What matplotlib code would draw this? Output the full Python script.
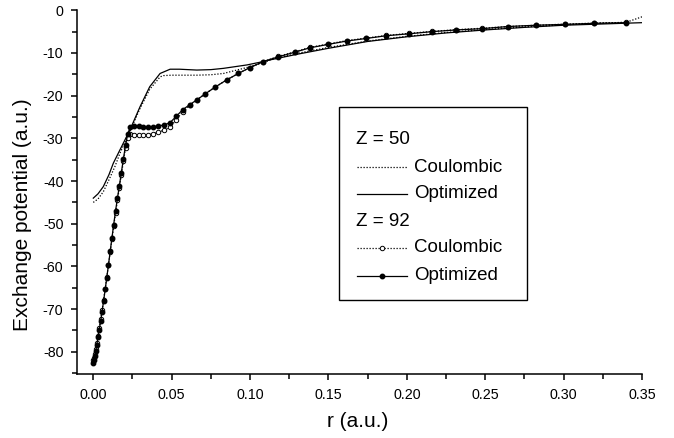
import matplotlib
matplotlib.use("Agg")
import matplotlib.pyplot as plt
from matplotlib.lines import Line2D
from matplotlib.patches import Rectangle
from matplotlib.ticker import MultipleLocator

plt.rcParams["font.family"] = ["Liberation Sans", "DejaVu Sans"]

# Z = 50, Coulombic (dotted)
r_z50_coul = [0.0, 0.003, 0.0064, 0.01, 0.0138, 0.017, 0.0234, 0.0298, 0.036,
              0.0426, 0.0447, 0.05, 0.055, 0.066, 0.075, 0.083, 0.098, 0.1085,
              0.113, 0.13, 0.15, 0.175, 0.2, 0.225, 0.25, 0.275, 0.3, 0.325,
              0.34, 0.351]
v_z50_coul = [-45.0, -44.2, -42.5, -39.7, -36.6, -33.5, -28.3, -23.0, -18.5,
              -15.6, -15.3, -15.2, -15.2, -15.2, -15.1, -14.8, -13.4, -12.3,
              -11.6, -10.1, -8.7, -7.2, -6.1, -5.2, -4.5, -3.9, -3.4, -3.0,
              -2.8, -1.4]

# Z = 50, Optimized (solid)
r_z50_opt = [0.0, 0.003, 0.0064, 0.01, 0.0128, 0.017, 0.0234, 0.0298, 0.036,
             0.0426, 0.049, 0.055, 0.066, 0.075, 0.083, 0.098, 0.1085, 0.113,
             0.13, 0.15, 0.175, 0.2, 0.225, 0.25, 0.275, 0.3, 0.325, 0.35]
v_z50_opt = [-44.0, -43.0, -41.3, -38.5, -35.8, -32.7, -28.0, -22.6, -17.9,
             -14.8, -13.8, -13.8, -14.0, -13.9, -13.6, -12.8, -12.0, -11.6,
             -10.3, -8.9, -7.3, -6.2, -5.3, -4.6, -4.0, -3.5, -3.2, -2.9]

# Z = 92 (both curves sampled at the same radii, one marker per point)
r_z92 = [0.0, 0.0005, 0.001, 0.0016, 0.0022, 0.003, 0.0038, 0.0047, 0.0056,
         0.0066, 0.0076, 0.0086, 0.0097, 0.0108, 0.0119, 0.013, 0.0142,
         0.0154, 0.0166, 0.0179, 0.0192, 0.0206, 0.022, 0.0236, 0.0262,
         0.029, 0.032, 0.035, 0.038, 0.041, 0.045, 0.049, 0.053, 0.057,
         0.0615, 0.066, 0.0713, 0.0777, 0.0851, 0.0925, 0.1, 0.1085, 0.118,
         0.1287, 0.138, 0.1496, 0.1617, 0.174, 0.187, 0.2015, 0.216, 0.2315,
         0.248, 0.2645, 0.2823, 0.3006, 0.3197, 0.34]
v_z92_coul = [-82.0, -81.5, -80.6, -79.4, -78.0, -76.2, -74.4, -72.4, -70.3,
              -67.8, -65.2, -62.5, -59.6, -56.6, -53.6, -50.6, -47.5, -44.5,
              -41.6, -38.5, -35.4, -32.2, -29.9, -29.0, -29.1, -29.2, -29.2,
              -29.1, -28.9, -28.6, -28.1, -27.4, -25.6, -23.8, -22.3, -21.0,
              -19.6, -18.0, -16.3, -14.8, -13.4, -12.0, -10.8, -9.7, -8.7,
              -7.9, -7.1, -6.5, -5.9, -5.4, -4.95, -4.55, -4.2, -3.8, -3.5,
              -3.25, -3.0, -2.85]
v_z92_opt = [-82.7, -82.0, -81.0, -79.8, -78.4, -76.6, -74.8, -72.8, -70.6,
             -68.0, -65.4, -62.6, -59.6, -56.4, -53.3, -50.2, -47.0, -44.0,
             -41.2, -38.0, -34.8, -31.6, -28.9, -27.4, -27.0, -27.1, -27.3,
             -27.4, -27.3, -27.1, -26.9, -26.3, -24.8, -23.3, -22.1, -21.0,
             -19.6, -18.0, -16.3, -14.8, -13.4, -12.0, -10.9, -9.8, -8.8,
             -8.0, -7.2, -6.6, -5.95, -5.5, -5.0, -4.6, -4.3, -3.8, -3.5,
             -3.3, -3.05, -2.9]

legend_rows = ["Z = 50", "Coulombic", "Optimized", "Z = 92", "Coulombic", "Optimized"]

W, H = 674, 438
fig = plt.figure(figsize=(W / 100, H / 100), dpi=100)
ax = fig.add_axes([77.3 / W, 1 - 374 / H, (642 - 77.3) / W, (374 - 10.3) / H])

dot = (0, (1, 1.4))
ax.plot(r_z50_coul, v_z50_coul, color="black", lw=0.9, ls=dot)
ax.plot(r_z50_opt, v_z50_opt, color="black", lw=0.9)
ax.plot(r_z92, v_z92_coul, color="black", lw=0.9, ls=dot, marker="o", ms=3.2,
        mfc="white", mec="black", mew=0.7)
ax.plot(r_z92, v_z92_opt, color="black", lw=0.9, marker="o", ms=3.2,
        mfc="black", mec="black")

ax.set_xlim(-0.0102, 0.35)
ax.set_ylim(-85.2, 0)
ax.xaxis.set_major_locator(MultipleLocator(0.05))
ax.xaxis.set_minor_locator(MultipleLocator(0.025))
ax.yaxis.set_major_locator(MultipleLocator(10))
ax.yaxis.set_minor_locator(MultipleLocator(5))
ax.xaxis.set_major_formatter(plt.FuncFormatter(lambda v, p: f"{v:.2f}"))
ax.yaxis.set_major_formatter(plt.FuncFormatter(lambda v, p: "0" if abs(v) < 1e-9 else f"{v:.0f}"))

for s in ["top", "right"]:
    ax.spines[s].set_visible(False)
for s in ["left", "bottom"]:
    ax.spines[s].set_linewidth(1.1)
ax.tick_params(which="major", direction="out", length=4, width=1.1, labelsize=10.3, pad=6)
ax.tick_params(which="minor", direction="out", length=3.5, width=1.1)

ax.set_xlabel("r (a.u.)", fontsize=15)
ax.set_ylabel("Exchange potential (a.u.)", fontsize=15)
ax.xaxis.set_label_coords(0.497, -0.105)
ax.yaxis.set_label_coords(-0.080, 0.437)

# legend drawn by hand so the Z headers sit flush left
def fx(px):
    return px / W

def fy(py):
    return 1 - py / H

fig.patches.append(Rectangle((fx(339), fy(300)), fx(527) - fx(339), fy(107) - fy(300),
                             transform=fig.transFigure, fill=False, lw=1.0, ec="black"))
row_y = [140, 167, 194, 221, 248, 276]
styles = [None,
          dict(ls=dot),
          dict(ls="-"),
          None,
          dict(ls=dot, marker="o", ms=3.2, mfc="white", mec="black", mew=0.7),
          dict(ls="-", marker="o", ms=3.2, mfc="black", mec="black")]
for text, y, st in zip(legend_rows, row_y, styles):
    if st is None:
        fig.text(fx(356), fy(y), text, fontsize=13.5, va="center", ha="left")
    else:
        ln = Line2D([fx(357), fx(382), fx(407)], [fy(y)] * 3, transform=fig.transFigure,
                    color="black", lw=0.9, markevery=[1], **st)
        fig.lines.append(ln)
        fig.text(fx(414), fy(y), text, fontsize=13.5, va="center", ha="left")

fig.savefig("out.png", dpi=100)
